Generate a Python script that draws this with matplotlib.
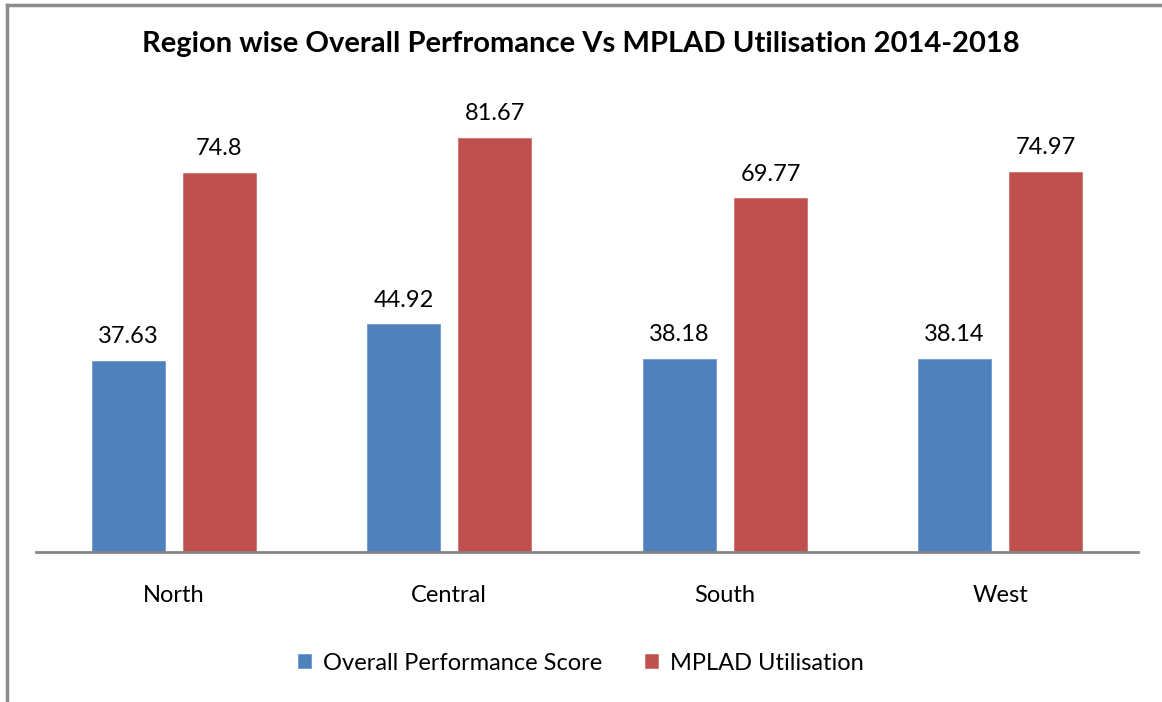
import numpy as np
import matplotlib.pyplot as plt
from matplotlib.lines import Line2D

regions = ["North", "Central", "South", "West"]
perf_score = [37.63, 44.92, 38.18, 38.14]
mplad_util = [74.8, 81.67, 69.77, 74.97]
value_labels_perf = ["37.63", "44.92", "38.18", "38.14"]
value_labels_mplad = ["74.8", "81.67", "69.77", "74.97"]

plt.rcParams['font.family'] = ['Lato', 'DejaVu Sans']

blue = "#4F81BD"
red = "#C0504D"

fig = plt.figure(figsize=(11.62, 7.02), dpi=100)
ax = fig.add_axes([36/1162, 150/702, (1138-36)/1162, (552-96)/702])

x = np.arange(len(regions))
w = 0.265
b1 = ax.bar(x - 0.166, perf_score, w, color=blue, edgecolor="#6F9BD1", linewidth=0.6,
            label="Overall Performance Score")
b2 = ax.bar(x + 0.166, mplad_util, w, color=red, edgecolor="#D07270", linewidth=0.6,
            label="MPLAD Utilisation")

for bars, labs in [(b1, value_labels_perf), (b2, value_labels_mplad)]:
    for rect, lab in zip(bars, labs):
        ax.annotate(lab, (rect.get_x() + rect.get_width()/2, rect.get_height()),
                    xytext=(0, 10), textcoords="offset points", ha="center", va="bottom",
                    fontsize=17, color="#000000")

ax.set_xlim(-0.5, len(regions) - 0.5)
ax.set_ylim(0, 90)
ax.set_xticks(x)
ax.set_xticklabels(regions, fontsize=17)
ax.tick_params(axis="x", length=0, pad=24)
ax.set_yticks([])
for s in ["top", "right", "left"]:
    ax.spines[s].set_visible(False)
ax.spines["bottom"].set_color("#868686")
ax.spines["bottom"].set_linewidth(2)

fig.text(0.5, 1 - 44/702, "Region wise Overall Perfromance Vs MPLAD Utilisation 2014-2018",
         ha="center", va="center", fontsize=21, fontweight="bold")

fig.legend(loc="center", bbox_to_anchor=(0.5, 1 - 663/702), ncol=2, frameon=False,
           fontsize=17, handlelength=0.55, handleheight=0.55, columnspacing=1.8,
           handletextpad=0.5)

# chart border (left and top only visible)
fig.add_artist(Line2D([7/1162, 7/1162], [0, 1 - 5/702], color="#8C8C8C", linewidth=2.5))
fig.add_artist(Line2D([7/1162, 1], [1 - 5/702, 1 - 5/702], color="#8C8C8C", linewidth=2.5))

fig.savefig("out.png", dpi=100)
